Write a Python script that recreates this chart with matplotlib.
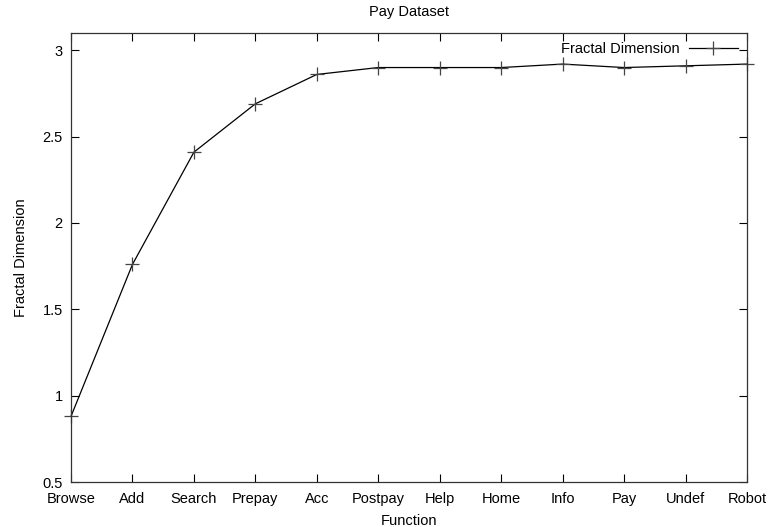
import matplotlib.pyplot as plt
import numpy as np

plt.rcParams['font.family'] = ['Liberation Sans', 'DejaVu Sans']

# Fractal dimension per function
functions = ['Browse', 'Add', 'Search', 'Prepay', 'Acc', 'Postpay',
             'Help', 'Home', 'Info', 'Pay', 'Undef', 'Robot']
fractal_dim = [0.88, 1.76, 2.41, 2.69, 2.86, 2.90,
               2.90, 2.90, 2.92, 2.90, 2.91, 2.92]

x = np.arange(len(functions))

fig = plt.figure(figsize=(7.68, 5.27), dpi=100)
ax = fig.add_axes([71 / 768, 1 - 482 / 527, 676 / 768, 449 / 527])

ax.plot(x, fractal_dim, color='black', linewidth=0.9, marker='+',
        markersize=10, markeredgewidth=0.9, markeredgecolor='#444444',
        label='Fractal Dimension', clip_on=False)

ax.set_xlim(0, 11)
ax.set_ylim(0.5, 3.1)
ax.set_xticks(x)
ax.set_xticklabels(functions)
ax.set_yticks([0.5, 1, 1.5, 2, 2.5, 3])
ax.set_yticklabels(['0.5', '1', '1.5', '2', '2.5', '3'])
ax.tick_params(direction='in', top=True, right=True, length=6, width=0.8,
               labelsize=10.5)
ax.tick_params(axis='y', pad=6)
ax.tick_params(axis='x', pad=7)
for s in ax.spines.values():
    s.set_linewidth(0.9)
    s.set_color('#333333')

ax.set_xlabel('Function', fontsize=10.5, labelpad=6)
ax.set_ylabel('Fractal Dimension', fontsize=10.5, labelpad=10)
ax.set_title('Pay Dataset', fontsize=10.5, pad=12)

leg = ax.legend(loc='upper right', frameon=False, fontsize=10.5,
                markerfirst=False, handlelength=3.4, handletextpad=0.6,
                borderaxespad=0.2, borderpad=0.4)

fig.savefig('out.png', dpi=100)
